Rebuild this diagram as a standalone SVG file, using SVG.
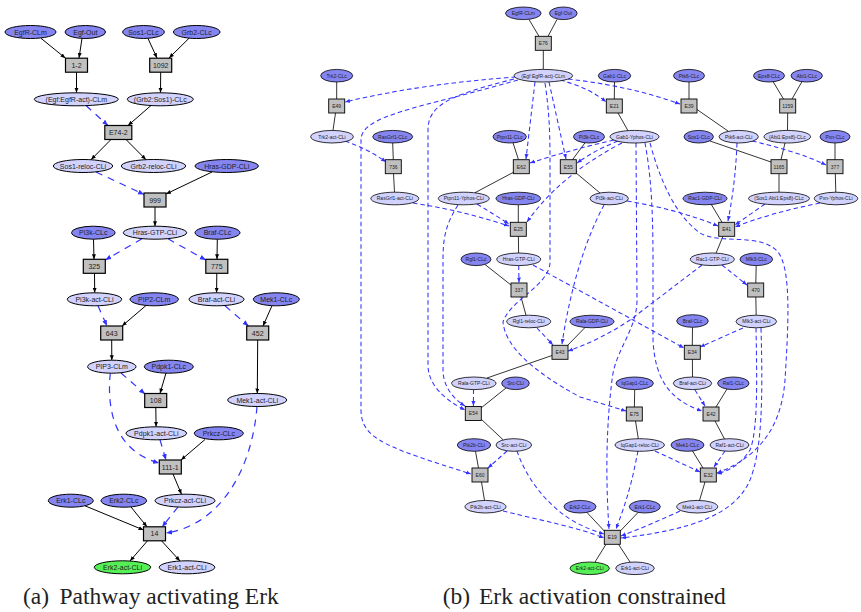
<svg xmlns="http://www.w3.org/2000/svg" width="861" height="612" viewBox="0 0 861 612">
<style>
.nd{fill:#8585f2;stroke:#000;stroke-width:1}
.nl{fill:#d2d2ff;stroke:#000;stroke-width:1}
.ng{fill:#55f055;stroke:#000;stroke-width:1}
.bx{fill:#c0c0c0;stroke:#000;stroke-width:1.2}
.b2 .nd,.b2 .nl,.b2 .ng{stroke-width:0.8}
.b2 .bx{stroke-width:0.9}
.ta{font-family:"Liberation Sans",Arial,sans-serif;font-size:7px;text-anchor:middle;fill:#222}
.tb{font-family:"Liberation Sans",Arial,sans-serif;font-size:5px;text-anchor:middle;fill:#222}
.sa{stroke:#000;stroke-width:1;fill:none;marker-end:url(#ka)}
.da{stroke:#3333ff;stroke-width:1.2;stroke-dasharray:7 6;fill:none;marker-end:url(#ba)}
.sb{stroke:#000;stroke-width:0.8;fill:none}
.db{stroke:#3333ff;stroke-width:1.05;stroke-dasharray:4.5 3;fill:none;marker-end:url(#bb)}
.cap{font-family:"Liberation Serif","Times New Roman",serif;font-size:23.5px;fill:#222}
</style>
<defs>
<marker id="ka" viewBox="0 0 10 10" refX="10" refY="5" markerWidth="5" markerHeight="5" markerUnits="userSpaceOnUse" orient="auto"><path d="M0,1 L10,5 L0,9 z" fill="#000"/></marker>
<marker id="ba" viewBox="0 0 10 10" refX="10" refY="5" markerWidth="6" markerHeight="6" markerUnits="userSpaceOnUse" orient="auto"><path d="M0,1 L10,5 L0,9 z" fill="#3333ff"/></marker>
<marker id="bb" viewBox="0 0 10 10" refX="10" refY="5" markerWidth="5" markerHeight="5" markerUnits="userSpaceOnUse" orient="auto"><path d="M0,1 L10,5 L0,9 z" fill="#3333ff"/></marker>
</defs>
<rect width="861" height="612" fill="#fff"/>

<!-- Panel (a) connectors -->
<g id="a-edges">
<path class="sa" d="M41,38.3 L65.5,58.2"/>
<path class="sa" d="M82,38.5 L79,58"/>
<path class="sa" d="M76.5,72.2 L76.5,92.8"/>
<path class="sa" d="M148,38.5 L157,58"/>
<path class="sa" d="M189,38.3 L169,58"/>
<path class="sa" d="M160.7,72.2 L160.5,92.8"/>
<path class="sa" d="M151,105.5 L128,125.5"/>
<path class="sa" d="M111,139.5 L91,159.7"/>
<path class="sa" d="M126,139.5 L146,159.7"/>
<path class="sa" d="M212,172 L166,194"/>
<path class="sa" d="M155,207 L155,226.2"/>
<path class="sa" d="M93.5,239.2 L94,259.3"/>
<path class="sa" d="M94.5,273.3 L94.7,292.8"/>
<path class="sa" d="M217.3,239.2 L217,259.3"/>
<path class="sa" d="M216.8,273.3 L216.6,292.8"/>
<path class="sa" d="M146,305.5 L122,326"/>
<path class="sa" d="M111.7,340 L111.8,360.2"/>
<path class="sa" d="M272,305.7 L263,326"/>
<path class="sa" d="M257.7,340 L257.3,393.5"/>
<path class="sa" d="M166,373 L160,393.5"/>
<path class="sa" d="M155.8,407.5 L156.1,426.8"/>
<path class="sa" d="M205,439.5 L181,460"/>
<path class="sa" d="M173,474 L181.5,494.3"/>
<path class="sa" d="M85,505.8 L143.5,530"/>
<path class="sa" d="M131,507 L147,526.8"/>
<path class="sa" d="M147.5,540.8 L130,561"/>
<path class="sa" d="M161.5,540.8 L180,561"/>
<path class="da" d="M86,105.5 L108,125.5"/>
<path class="da" d="M96,172 L144,194.5"/>
<path class="da" d="M142,238.8 L105.3,260"/>
<path class="da" d="M168,238.8 L205.8,260"/>
<path class="da" d="M98,305.8 L107,326"/>
<path class="da" d="M225,305.8 L248.5,326"/>
<path class="da" d="M121,373 L145,394"/>
<path class="da" d="M110.3,373.2 C107,405 112,450 159,463"/>
<path class="da" d="M160,439.8 L166,460"/>
<path class="da" d="M178,507 L162,527"/>
<path class="da" d="M257,406.5 C252,470 220,525 166,533"/>
</g>

<!-- Panel (a) nodes -->
<g id="a-EgfR-CLm"><ellipse class="nd" cx="30.5" cy="32" rx="25.5" ry="6.5"/><text class="ta" x="30.5" y="34.5">EgfR-CLm</text></g>
<g id="a-Egf-Out"><ellipse class="nd" cx="85.3" cy="32" rx="20.3" ry="6.5"/><text class="ta" x="85.3" y="34.5">Egf-Out</text></g>
<g id="a-Sos1-CLc"><ellipse class="nd" cx="143.5" cy="32" rx="20.8" ry="6.5"/><text class="ta" x="143.5" y="34.5">Sos1-CLc</text></g>
<g id="a-Grb2-CLc"><ellipse class="nd" cx="196.7" cy="32" rx="23.3" ry="6.5"/><text class="ta" x="196.7" y="34.5">Grb2-CLc</text></g>
<g id="a-r1-2"><rect class="bx" x="65.5" y="58.2" width="22" height="14"/><text class="ta" x="76.5" y="67.7">1-2</text></g>
<g id="a-r1092"><rect class="bx" x="149.7" y="58.2" width="22" height="14"/><text class="ta" x="160.7" y="67.7">1092</text></g>
<g id="a-EgfEgfR-act-CLm"><ellipse class="nl" cx="76.3" cy="99.3" rx="42" ry="6.5"/><text class="ta" x="76.3" y="101.8">(Egf:EgfR-act)-CLm</text></g>
<g id="a-Grb2Sos1-CLc"><ellipse class="nl" cx="160.3" cy="99.3" rx="33" ry="6.5"/><text class="ta" x="160.3" y="101.8">(Grb2:Sos1)-CLc</text></g>
<g id="a-rE74-2"><rect class="bx" x="104.8" y="125.5" width="27" height="14"/><text class="ta" x="118.3" y="135">E74-2</text></g>
<g id="a-Sos1-reloc-CLi"><ellipse class="nl" cx="83" cy="166" rx="29.7" ry="6.5"/><text class="ta" x="83" y="168.5">Sos1-reloc-CLi</text></g>
<g id="a-Grb2-reloc-CLi"><ellipse class="nl" cx="153.5" cy="166" rx="32.2" ry="6.5"/><text class="ta" x="153.5" y="168.5">Grb2-reloc-CLi</text></g>
<g id="a-Hras-GDP-CLi"><ellipse class="nd" cx="226.7" cy="166" rx="31.7" ry="6.5"/><text class="ta" x="226.7" y="168.5">Hras-GDP-CLi</text></g>
<g id="a-r999"><rect class="bx" x="144" y="193" width="22" height="14"/><text class="ta" x="155" y="202.5">999</text></g>
<g id="a-Pi3k-CLc"><ellipse class="nd" cx="93.3" cy="232.7" rx="21.7" ry="6.5"/><text class="ta" x="93.3" y="235.2">Pi3k-CLc</text></g>
<g id="a-Hras-GTP-CLi"><ellipse class="nl" cx="155" cy="232.7" rx="31.7" ry="6.5"/><text class="ta" x="155" y="235.2">Hras-GTP-CLi</text></g>
<g id="a-Braf-CLc"><ellipse class="nd" cx="217.5" cy="232.7" rx="22.5" ry="6.5"/><text class="ta" x="217.5" y="235.2">Braf-CLc</text></g>
<g id="a-r325"><rect class="bx" x="83.3" y="259.3" width="22" height="14"/><text class="ta" x="94.3" y="268.8">325</text></g>
<g id="a-r775"><rect class="bx" x="205.8" y="259.3" width="22" height="14"/><text class="ta" x="216.8" y="268.8">775</text></g>
<g id="a-Pi3k-act-CLi"><ellipse class="nl" cx="94.5" cy="299.3" rx="27.2" ry="6.5"/><text class="ta" x="94.5" y="301.8">Pi3k-act-CLi</text></g>
<g id="a-PIP2-CLm"><ellipse class="nd" cx="154.2" cy="299.3" rx="24.2" ry="6.5"/><text class="ta" x="154.2" y="301.8">PIP2-CLm</text></g>
<g id="a-Braf-act-CLi"><ellipse class="nl" cx="216.5" cy="299.3" rx="27.5" ry="6.5"/><text class="ta" x="216.5" y="301.8">Braf-act-CLi</text></g>
<g id="a-Mek1-CLc"><ellipse class="nd" cx="276.3" cy="299.3" rx="23" ry="6.5"/><text class="ta" x="276.3" y="301.8">Mek1-CLc</text></g>
<g id="a-r643"><rect class="bx" x="100.7" y="326" width="22" height="14"/><text class="ta" x="111.7" y="335.5">643</text></g>
<g id="a-r452"><rect class="bx" x="246.7" y="326" width="22" height="14"/><text class="ta" x="257.7" y="335.5">452</text></g>
<g id="a-PIP3-CLm"><ellipse class="nl" cx="111.8" cy="366.7" rx="24.2" ry="6.5"/><text class="ta" x="111.8" y="369.2">PIP3-CLm</text></g>
<g id="a-Pdpk1-CLc"><ellipse class="nd" cx="168.8" cy="366.7" rx="24.5" ry="6.5"/><text class="ta" x="168.8" y="369.2">Pdpk1-CLc</text></g>
<g id="a-r108"><rect class="bx" x="144.7" y="393.5" width="22" height="14"/><text class="ta" x="155.7" y="403">108</text></g>
<g id="a-Mek1-act-CLi"><ellipse class="nl" cx="257.2" cy="400" rx="29.5" ry="6.5"/><text class="ta" x="257.2" y="402.5">Mek1-act-CLi</text></g>
<g id="a-Pdpk1-act-CLi"><ellipse class="nl" cx="156.3" cy="433.3" rx="30.3" ry="6.5"/><text class="ta" x="156.3" y="435.8">Pdpk1-act-CLi</text></g>
<g id="a-Prkcz-CLc"><ellipse class="nd" cx="218.8" cy="433.3" rx="24.5" ry="6.5"/><text class="ta" x="218.8" y="435.8">Prkcz-CLc</text></g>
<g id="a-r111-1"><rect class="bx" x="159.3" y="460" width="22" height="14"/><text class="ta" x="170.3" y="469.5">111-1</text></g>
<g id="a-Erk1-CLc"><ellipse class="nd" cx="70.8" cy="500.7" rx="22.5" ry="6.5"/><text class="ta" x="70.8" y="503.2">Erk1-CLc</text></g>
<g id="a-Erk2-CLc"><ellipse class="nd" cx="123.8" cy="500.7" rx="22.8" ry="6.5"/><text class="ta" x="123.8" y="503.2">Erk2-CLc</text></g>
<g id="a-Prkcz-act-CLi"><ellipse class="nl" cx="185" cy="500.7" rx="30" ry="6.5"/><text class="ta" x="185" y="503.2">Prkcz-act-CLi</text></g>
<g id="a-r14"><rect class="bx" x="143.5" y="526.8" width="22" height="14"/><text class="ta" x="154.5" y="536.3">14</text></g>
<g id="a-Erk2-act-CLi"><ellipse class="ng" cx="122.5" cy="567.3" rx="28.2" ry="6.5"/><text class="ta" x="122.5" y="569.8">Erk2-act-CLi</text></g>
<g id="a-Erk1-act-CLi"><ellipse class="nl" cx="187" cy="567.3" rx="27.8" ry="6.5"/><text class="ta" x="187" y="569.8">Erk1-act-CLi</text></g>

<!-- Panel (b) connectors -->
<g id="b-edges">
<path class="sb" d="M529,19.5 L539,36.3"/>
<path class="sb" d="M557,19.5 L548,36.3"/>
<path class="sb" d="M543.3,50.3 L543.3,69.5"/>
<path class="sb" d="M336.7,82 L336.7,99"/>
<path class="sb" d="M335.5,113 L333,130.4"/>
<path class="sb" d="M392.7,143 L393.3,159.7"/>
<path class="sb" d="M393.5,173.7 L394.5,192.2"/>
<path class="sb" d="M513,142.8 L518.5,159.7"/>
<path class="sb" d="M514,172 L475,192.7"/>
<path class="sb" d="M614.5,82 L614.3,99"/>
<path class="sb" d="M618,113 L628,130.7"/>
<path class="sb" d="M585,142.8 L572.5,159.7"/>
<path class="sb" d="M575,172 L600,193"/>
<path class="sb" d="M689,82 L689,99"/>
<path class="sb" d="M697,109.5 L728,131"/>
<path class="sb" d="M773,81.5 L783.5,99"/>
<path class="sb" d="M802,81.5 L792,99"/>
<path class="sb" d="M787.7,113 L787.5,130.4"/>
<path class="sb" d="M710,141 L771,162"/>
<path class="sb" d="M785,143 L781,159.7"/>
<path class="sb" d="M779,173.7 L779,192.2"/>
<path class="sb" d="M835,143 L835,159.7"/>
<path class="sb" d="M835.3,173.7 L835.8,192.2"/>
<path class="sb" d="M518.3,204.8 L518.3,222.3"/>
<path class="sb" d="M518.4,236.3 L518.6,253"/>
<path class="sb" d="M711,204 L722,222.3"/>
<path class="sb" d="M723,236.3 L716,253.2"/>
<path class="sb" d="M756.2,265.6 L755.8,283"/>
<path class="sb" d="M755.8,297 L756.2,315.2"/>
<path class="sb" d="M485,264.5 L511,285"/>
<path class="sb" d="M521,297 L526,315.2"/>
<path class="sb" d="M585,327.5 L567,346"/>
<path class="sb" d="M552,355.5 L487,378"/>
<path class="sb" d="M506,388 L481,408"/>
<path class="sb" d="M481,419 L503,439.7"/>
<path class="sb" d="M692.5,327.3 L692.3,345.3"/>
<path class="sb" d="M692.4,359.3 L692.5,377"/>
<path class="sb" d="M634.7,389.6 L634.4,407"/>
<path class="sb" d="M635.5,421 L638.3,438.7"/>
<path class="sb" d="M727,389 L716,407"/>
<path class="sb" d="M715,421 L724.5,439"/>
<path class="sb" d="M475.5,451.3 L478.5,468"/>
<path class="sb" d="M481.5,482 L484.5,500.4"/>
<path class="sb" d="M692.5,451 L703,468"/>
<path class="sb" d="M705,482 L699.5,500.5"/>
<path class="sb" d="M587,512.5 L604.3,531"/>
<path class="sb" d="M638,512.5 L620.3,531"/>
<path class="sb" d="M606,544.3 L595,562"/>
<path class="sb" d="M618.5,544.3 L630,562"/>

<path class="db" d="M516,77 Q420,84 345,102"/>
<path class="db" d="M518,80 C420,108 361,115 361,140 L361,410 C361,440 390,448 471,474"/>
<path class="db" d="M514,79 C450,95 428,105 428,130 L428,365 C428,385 445,400 465,410"/>
<path class="db" d="M458,205 C445,225 443,240 443,260 L443,370 C443,385 452,398 465,406"/>
<path class="db" d="M535,82 L526,159"/>
<path class="db" d="M549,82 L566,159"/>
<path class="db" d="M545,83 C549,110 550,130 550,160 L550,262 C550,285 510,300 503,322 C505,345 530,370 580,397 L626,411"/>
<path class="db" d="M560,80 Q590,88 606,102"/>
<path class="db" d="M568,79 Q630,86 680,104"/>
<path class="db" d="M614,140 Q570,150 530,163"/>
<path class="db" d="M618,141 Q595,150 577,163"/>
<path class="db" d="M622,143 Q560,175 527,222"/>
<path class="db" d="M636,143 L637,300 C637,330 615,350 612,380 C607,420 605,470 609,529"/>
<path class="db" d="M645,143 C650,170 653,200 653,260 L653,340 C655,380 670,400 702,411"/>
<path class="db" d="M650,143 C660,180 675,215 700,233 C720,245 760,232 778,252 C792,270 788,330 785,380 C782,420 765,455 717,473"/>
<path class="db" d="M627,201 Q680,210 718,226"/>
<path class="db" d="M604,205 C585,240 570,290 562,344"/>
<path class="db" d="M702,265 L630,320 Q600,340 568,351"/>
<path class="db" d="M722,265 L747,285"/>
<path class="db" d="M737,143 C736,170 733,195 728,221"/>
<path class="db" d="M752,141 C790,150 812,158 826,165"/>
<path class="db" d="M765,204 L735,225"/>
<path class="db" d="M820,203 Q770,213 735,227"/>
<path class="db" d="M413,203 Q460,210 509,226"/>
<path class="db" d="M477,204 Q495,215 509,224"/>
<path class="db" d="M345,141 Q370,150 386,162"/>
<path class="db" d="M518.7,265.6 L519,282.5"/>
<path class="db" d="M533,265 L684,348"/>
<path class="db" d="M537,328 L553,345"/>
<path class="db" d="M473.5,389.6 L473.4,406"/>
<path class="db" d="M507,451 L488,468"/>
<path class="db" d="M517,451 C525,475 545,505 575,522 Q590,530 604,534"/>
<path class="db" d="M503,511 C540,520 580,528 604,538"/>
<path class="db" d="M743,328 L700,347"/>
<path class="db" d="M756,328 C757,380 758,430 750,450 C740,465 730,470 717,474"/>
<path class="db" d="M761,328 C763,400 762,450 750,480 C735,515 690,530 621,538"/>
<path class="db" d="M655,451 L700,472"/>
<path class="db" d="M638,451 C634,470 631,490 616,529"/>
<path class="db" d="M695,390 L705,406"/>
<path class="db" d="M725,451 L714,467"/>
<path class="db" d="M680,511 Q650,525 621,536"/>
</g>

<!-- Panel (b) nodes -->
<g class="b2">
<g id="b-EgfR-CLm"><ellipse class="nd" cx="523.3" cy="13.3" rx="17.8" ry="6.3"/><text class="tb" x="523.3" y="15.1">EgfR-CLm</text></g>
<g id="b-Egf-Out"><ellipse class="nd" cx="563.3" cy="13.3" rx="13.8" ry="6.3"/><text class="tb" x="563.3" y="15.1">Egf-Out</text></g>
<g id="b-E76"><rect class="bx" x="535.3" y="36.3" width="16" height="14"/><text class="tb" x="543.3" y="45.1">E76</text></g>
<g id="b-EgfEgfR-act-CLm"><ellipse class="nl" cx="543.3" cy="75.7" rx="29.3" ry="6.3"/><text class="tb" x="543.3" y="77.5">(Egf:EgfR-act)-CLm</text></g>
<g id="b-Trk2-CLc"><ellipse class="nd" cx="336.7" cy="75.7" rx="16" ry="6.3"/><text class="tb" x="336.7" y="77.5">Trk2-CLc</text></g>
<g id="b-Gab1-CLc"><ellipse class="nd" cx="614.5" cy="75.7" rx="16.2" ry="6.3"/><text class="tb" x="614.5" y="77.5">Gab1-CLc</text></g>
<g id="b-Ptk6-CLc"><ellipse class="nd" cx="689" cy="75.7" rx="15.5" ry="6.3"/><text class="tb" x="689" y="77.5">Ptk6-CLc</text></g>
<g id="b-Eps8-CLc"><ellipse class="nd" cx="769" cy="75.7" rx="15.5" ry="6.3"/><text class="tb" x="769" y="77.5">Eps8-CLc</text></g>
<g id="b-Abi1-CLc"><ellipse class="nd" cx="806.7" cy="75.7" rx="15.7" ry="6.3"/><text class="tb" x="806.7" y="77.5">Abi1-CLc</text></g>
<g id="b-E49"><rect class="bx" x="328.7" y="99" width="16" height="14"/><text class="tb" x="336.7" y="107.8">E49</text></g>
<g id="b-E21"><rect class="bx" x="606.3" y="99" width="16" height="14"/><text class="tb" x="614.3" y="107.8">E21</text></g>
<g id="b-E39"><rect class="bx" x="681" y="99" width="16" height="14"/><text class="tb" x="689" y="107.8">E39</text></g>
<g id="b-r1159"><rect class="bx" x="779.7" y="99" width="16" height="14"/><text class="tb" x="787.7" y="107.8">1159</text></g>
<g id="b-Trk2-act-CLi"><ellipse class="nl" cx="332" cy="136.7" rx="21.3" ry="6.3"/><text class="tb" x="332" y="138.5">Trk2-act-CLi</text></g>
<g id="b-RasGrf1-CLc"><ellipse class="nd" cx="392.7" cy="136.7" rx="20" ry="6.3"/><text class="tb" x="392.7" y="138.5">RasGrf1-CLc</text></g>
<g id="b-Ptpn11-CLc"><ellipse class="nd" cx="509.7" cy="136.7" rx="16.7" ry="6.3"/><text class="tb" x="509.7" y="138.5">Ptpn11-CLc</text></g>
<g id="b-Pi3k-CLc"><ellipse class="nd" cx="589" cy="136.7" rx="15.5" ry="6.3"/><text class="tb" x="589" y="138.5">Pi3k-CLc</text></g>
<g id="b-Gab1-Yphos-CLi"><ellipse class="nl" cx="634.5" cy="136.7" rx="24.5" ry="6.3"/><text class="tb" x="634.5" y="138.5">Gab1-Yphos-CLi</text></g>
<g id="b-Sos1-CLc"><ellipse class="nd" cx="698.7" cy="136.7" rx="14.7" ry="6.3"/><text class="tb" x="698.7" y="138.5">Sos1-CLc</text></g>
<g id="b-Ptk6-act-CLi"><ellipse class="nl" cx="738.7" cy="136.7" rx="19.7" ry="6.3"/><text class="tb" x="738.7" y="138.5">Ptk6-act-CLi</text></g>
<g id="b-Abi1Eps8-CLc"><ellipse class="nl" cx="787.3" cy="136.7" rx="23.3" ry="6.3"/><text class="tb" x="787.3" y="138.5">(Abi1:Eps8)-CLc</text></g>
<g id="b-Pxn-CLc"><ellipse class="nd" cx="835" cy="136.7" rx="15" ry="6.3"/><text class="tb" x="835" y="138.5">Pxn-CLc</text></g>
<g id="b-r736"><rect class="bx" x="385.3" y="159.7" width="16" height="14"/><text class="tb" x="393.3" y="168.5">736</text></g>
<g id="b-E62"><rect class="bx" x="513.3" y="159.7" width="16" height="14"/><text class="tb" x="521.3" y="168.5">E62</text></g>
<g id="b-E55"><rect class="bx" x="560.3" y="159.7" width="16" height="14"/><text class="tb" x="568.3" y="168.5">E55</text></g>
<g id="b-r1165"><rect class="bx" x="771" y="159.7" width="16" height="14"/><text class="tb" x="779" y="168.5">1165</text></g>
<g id="b-r377"><rect class="bx" x="827" y="159.7" width="16" height="14"/><text class="tb" x="835" y="168.5">377</text></g>
<g id="b-RasGrf1-act-CLi"><ellipse class="nl" cx="394.8" cy="198.5" rx="24" ry="6.3"/><text class="tb" x="394.8" y="200.3">RasGrf1-act-CLi</text></g>
<g id="b-Ptpn11-Yphos-CLi"><ellipse class="nl" cx="463.8" cy="198.5" rx="25.5" ry="6.3"/><text class="tb" x="463.8" y="200.3">Ptpn11-Yphos-CLi</text></g>
<g id="b-Hras-GDP-CLi"><ellipse class="nd" cx="518.3" cy="198.5" rx="22.3" ry="6.3"/><text class="tb" x="518.3" y="200.3">Hras-GDP-CLi</text></g>
<g id="b-Pi3k-act-CLi"><ellipse class="nl" cx="609.2" cy="198.5" rx="19.2" ry="6.3"/><text class="tb" x="609.2" y="200.3">Pi3k-act-CLi</text></g>
<g id="b-Rac1-GDP-CLi"><ellipse class="nd" cx="705" cy="198.5" rx="22" ry="6.3"/><text class="tb" x="705" y="200.3">Rac1-GDP-CLi</text></g>
<g id="b-Sos1Abi1Eps8-CLc"><ellipse class="nl" cx="779" cy="198.5" rx="30.5" ry="6.3"/><text class="tb" x="779" y="200.3">(Sos1:Abi1:Eps8)-CLc</text></g>
<g id="b-Pxn-Yphos-CLi"><ellipse class="nl" cx="836" cy="198.5" rx="21.7" ry="6.3"/><text class="tb" x="836" y="200.3">Pxn-Yphos-CLi</text></g>
<g id="b-E25"><rect class="bx" x="510.3" y="222.3" width="16" height="14"/><text class="tb" x="518.3" y="231.1">E25</text></g>
<g id="b-E41"><rect class="bx" x="718.7" y="222.3" width="16" height="14"/><text class="tb" x="726.7" y="231.1">E41</text></g>
<g id="b-Rgl1-CLc"><ellipse class="nd" cx="476" cy="259.3" rx="15" ry="6.3"/><text class="tb" x="476" y="261.1">Rgl1-CLc</text></g>
<g id="b-Hras-GTP-CLi"><ellipse class="nl" cx="518.7" cy="259.3" rx="22" ry="6.3"/><text class="tb" x="518.7" y="261.1">Hras-GTP-CLi</text></g>
<g id="b-Rac1-GTP-CLi"><ellipse class="nl" cx="712.3" cy="259.3" rx="22" ry="6.3"/><text class="tb" x="712.3" y="261.1">Rac1-GTP-CLi</text></g>
<g id="b-Mlk3-CLc"><ellipse class="nd" cx="756.3" cy="259.3" rx="16.3" ry="6.3"/><text class="tb" x="756.3" y="261.1">Mlk3-CLc</text></g>
<g id="b-r337"><rect class="bx" x="511" y="283" width="16" height="14"/><text class="tb" x="519" y="291.8">337</text></g>
<g id="b-r470"><rect class="bx" x="747.7" y="283" width="16" height="14"/><text class="tb" x="755.7" y="291.8">470</text></g>
<g id="b-Rgl1-reloc-CLi"><ellipse class="nl" cx="528.7" cy="321.5" rx="22" ry="6.3"/><text class="tb" x="528.7" y="323.3">Rgl1-reloc-CLi</text></g>
<g id="b-Rala-GDP-CLi"><ellipse class="nd" cx="592" cy="321.5" rx="22" ry="6.3"/><text class="tb" x="592" y="323.3">Rala-GDP-CLi</text></g>
<g id="b-Braf-CLc"><ellipse class="nd" cx="692.5" cy="321" rx="15.8" ry="6.3"/><text class="tb" x="692.5" y="322.8">Braf-CLc</text></g>
<g id="b-Mlk3-act-CLi"><ellipse class="nl" cx="756.3" cy="321.5" rx="20.3" ry="6.3"/><text class="tb" x="756.3" y="323.3">Mlk3-act-CLi</text></g>
<g id="b-E43"><rect class="bx" x="552" y="345.3" width="16" height="14"/><text class="tb" x="560" y="354.1">E43</text></g>
<g id="b-E34"><rect class="bx" x="684.3" y="345.3" width="16" height="14"/><text class="tb" x="692.3" y="354.1">E34</text></g>
<g id="b-Rala-GTP-CLi"><ellipse class="nl" cx="473.8" cy="383.3" rx="22.2" ry="6.3"/><text class="tb" x="473.8" y="385.1">Rala-GTP-CLi</text></g>
<g id="b-Src-CLi"><ellipse class="nd" cx="515.5" cy="383.3" rx="13.8" ry="6.3"/><text class="tb" x="515.5" y="385.1">Src-CLi</text></g>
<g id="b-IqGap1-CLc"><ellipse class="nd" cx="634.7" cy="383.3" rx="18.7" ry="6.3"/><text class="tb" x="634.7" y="385.1">IqGap1-CLc</text></g>
<g id="b-Braf-act-CLi"><ellipse class="nl" cx="692.5" cy="383.3" rx="19.2" ry="6.3"/><text class="tb" x="692.5" y="385.1">Braf-act-CLi</text></g>
<g id="b-Raf1-CLc"><ellipse class="nd" cx="733.3" cy="383.3" rx="15.7" ry="6.3"/><text class="tb" x="733.3" y="385.1">Raf1-CLc</text></g>
<g id="b-E54"><rect class="bx" x="465.3" y="406.5" width="16" height="14"/><text class="tb" x="473.3" y="415.3">E54</text></g>
<g id="b-E75"><rect class="bx" x="626.3" y="407" width="16" height="14"/><text class="tb" x="634.3" y="415.8">E75</text></g>
<g id="b-E42"><rect class="bx" x="703" y="407" width="16" height="14"/><text class="tb" x="711" y="415.8">E42</text></g>
<g id="b-Ptk2b-CLi"><ellipse class="nd" cx="474" cy="445" rx="16.7" ry="6.3"/><text class="tb" x="474" y="446.8">Ptk2b-CLi</text></g>
<g id="b-Src-act-CLi"><ellipse class="nl" cx="513.8" cy="445" rx="17.8" ry="6.3"/><text class="tb" x="513.8" y="446.8">Src-act-CLi</text></g>
<g id="b-IqGap1-reloc-CLi"><ellipse class="nl" cx="639.7" cy="445" rx="24.7" ry="6.3"/><text class="tb" x="639.7" y="446.8">IqGap1-reloc-CLi</text></g>
<g id="b-Mek1-CLc"><ellipse class="nd" cx="687.5" cy="445" rx="16.5" ry="6.3"/><text class="tb" x="687.5" y="446.8">Mek1-CLc</text></g>
<g id="b-Raf1-act-CLi"><ellipse class="nl" cx="729.5" cy="445" rx="19.5" ry="6.3"/><text class="tb" x="729.5" y="446.8">Raf1-act-CLi</text></g>
<g id="b-E60"><rect class="bx" x="472" y="468" width="16" height="14"/><text class="tb" x="480" y="476.8">E60</text></g>
<g id="b-E32"><rect class="bx" x="700.3" y="468" width="16" height="14"/><text class="tb" x="708.3" y="476.8">E32</text></g>
<g id="b-Ptk2b-act-CLi"><ellipse class="nl" cx="485.5" cy="506.7" rx="20.5" ry="6.3"/><text class="tb" x="485.5" y="508.5">Ptk2b-act-CLi</text></g>
<g id="b-Erk2-CLc"><ellipse class="nd" cx="580" cy="506.7" rx="16" ry="6.3"/><text class="tb" x="580" y="508.5">Erk2-CLc</text></g>
<g id="b-Erk1-CLc"><ellipse class="nd" cx="644.8" cy="506.7" rx="15.5" ry="6.3"/><text class="tb" x="644.8" y="508.5">Erk1-CLc</text></g>
<g id="b-Mek1-act-CLi"><ellipse class="nl" cx="697.2" cy="506.7" rx="20.5" ry="6.3"/><text class="tb" x="697.2" y="508.5">Mek1-act-CLi</text></g>
<g id="b-E19"><rect class="bx" x="604.3" y="530.3" width="16" height="14"/><text class="tb" x="612.3" y="539.1">E19</text></g>
<g id="b-Erk2-act-CLi"><ellipse class="ng" cx="589.7" cy="568.3" rx="19.7" ry="6.3"/><text class="tb" x="589.7" y="570.1">Erk2-act-CLi</text></g>
<g id="b-Erk1-act-CLi"><ellipse class="nl" cx="635" cy="568.3" rx="19.3" ry="6.3"/><text class="tb" x="635" y="570.1">Erk1-act-CLi</text></g>
</g>

<text class="cap" y="603.5"><tspan x="23">(a)</tspan><tspan x="59.5">Pathway activating Erk</tspan></text>
<text class="cap" y="603.5"><tspan x="442.7">(b)</tspan><tspan x="479">Erk activation constrained</tspan></text>
</svg>
